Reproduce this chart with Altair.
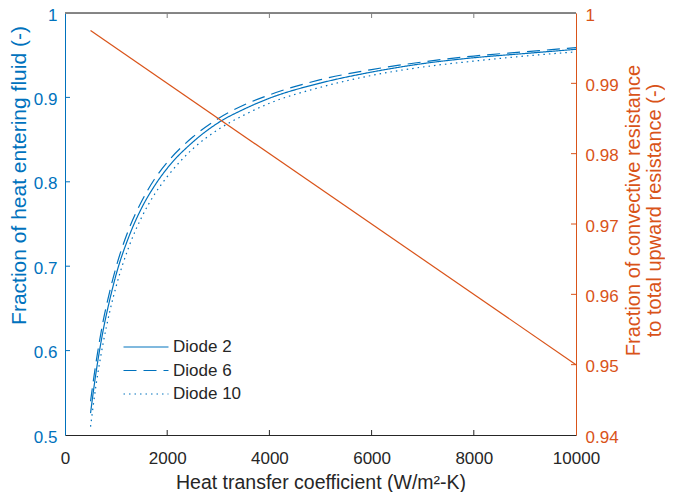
import altair as alt
import pandas as pd

# ---- data ----
h_values = [500, 600, 750, 875, 1000, 1250, 1500, 1750, 2000, 2500, 3000, 3500,
            4000, 5000, 6000, 7000, 8000, 9000, 10000]
diode2 = [0.526, 0.571, 0.625, 0.660, 0.690, 0.735, 0.769, 0.795, 0.816, 0.847, 0.870, 0.886,
          0.899, 0.917, 0.930, 0.940, 0.947, 0.952, 0.957]
diode6 = [0.540, 0.583, 0.636, 0.670, 0.699, 0.744, 0.777, 0.803, 0.823, 0.853, 0.875, 0.891,
          0.903, 0.921, 0.933, 0.942, 0.949, 0.954, 0.959]
diode10 = [0.510, 0.556, 0.610, 0.646, 0.676, 0.723, 0.758, 0.785, 0.806, 0.839, 0.862, 0.879,
           0.893, 0.912, 0.926, 0.936, 0.943, 0.949, 0.954]
series_names = ["Diode 2", "Diode 6", "Diode 10"]

h_conv = [500, 10000]
frac_conv = [0.9975, 0.95]

x_ticks = [0, 2000, 4000, 6000, 8000, 10000]
x_inner_ticks = [2000, 4000, 6000, 8000]
left_ticks = [0.5, 0.6, 0.7, 0.8, 0.9, 1.0]
left_inner_ticks = [0.6, 0.7, 0.8, 0.9]
right_ticks = [0.94, 0.95, 0.96, 0.97, 0.98, 0.99, 1.0]
right_inner_ticks = [0.95, 0.96, 0.97, 0.98, 0.99]

BLUE = "#0072BD"
ORANGE = "#D95319"
DARK = "#262626"
GRAY = "#7F7F7F"
FONT = "Liberation Sans"
W, H = 511, 422

rows = []
for name, vals in zip(series_names, [diode2, diode6, diode10]):
    for h, v in zip(h_values, vals):
        rows.append({"h": h, "frac": v, "series": name})
df_lines = pd.DataFrame(rows)
df_conv = pd.DataFrame({"h": h_conv, "conv": frac_conv})
df_xt = pd.DataFrame({"h": x_inner_ticks})
df_lt = pd.DataFrame({"lt": left_inner_ticks})
df_rt = pd.DataFrame({"rt": right_inner_ticks})

x_scale = alt.Scale(domain=[0, 10000], nice=False, zero=False)
yl_scale = alt.Scale(domain=[0.5, 1.0], nice=False, zero=False)
yr_scale = alt.Scale(domain=[0.94, 1.0], nice=False, zero=False)

x_axis = alt.Axis(
    values=x_ticks, format="d", ticks=False, grid=False,
    domainColor=DARK, labelColor=DARK, labelFont=FONT, labelFontSize=17,
    labelPadding=15, labelFlush=False,
    title="Heat transfer coefficient (W/m²-K)", titleColor=DARK, titleFont=FONT,
    titleFontSize=19.5, titleFontWeight="normal", titleY=53, titleBaseline="alphabetic",
)

lines = alt.Chart(df_lines).mark_line(color=BLUE, strokeWidth=1.2, interpolate="monotone").encode(
    x=alt.X("h:Q", scale=x_scale, axis=x_axis),
    y=alt.Y("frac:Q", scale=yl_scale, axis=alt.Axis(
        orient="left", values=left_ticks, format=".1~f", ticks=False, grid=False,
        domainColor=BLUE, labelColor=BLUE, labelFont=FONT, labelFontSize=17,
        labelPadding=8, labelFlush=False, labelOffset=2,
        title="Fraction of heat entering fluid (-)", titleColor=BLUE, titleFont=FONT,
        titleFontSize=21, titleFontWeight="normal", titleAngle=270,
        titleX=-40, titleY=162, titleAlign="center", titleBaseline="alphabetic",
    )),
    strokeDash=alt.StrokeDash("series:N", scale=alt.Scale(
        domain=series_names, range=[[1, 0], [13, 7], [1.5, 4]]),
        legend=alt.Legend(
            title=None, orient="none", legendX=69, legendY=322,
            symbolType="M-2,0L2,0", symbolSize=506, symbolStrokeColor=BLUE,
            symbolStrokeWidth=1.2, labelFont=FONT, labelFontSize=17, labelColor=DARK,
            labelOffset=15, rowPadding=3.5,
        )),
)

conv_line = alt.Chart(df_conv).mark_line(color=ORANGE, strokeWidth=1.2).encode(
    x=alt.X("h:Q", scale=x_scale),
    y=alt.Y("conv:Q", scale=yr_scale, axis=alt.Axis(
        orient="right", values=right_ticks, format=".2~f", ticks=False, grid=False,
        domainColor=ORANGE, labelColor=ORANGE, labelFont=FONT, labelFontSize=17,
        labelPadding=9, labelFlush=False, labelOffset=2,
        title=["Fraction of convective resistance", "to total upward resistance (-)"],
        titleColor=ORANGE, titleFont=FONT, titleFontSize=20, titleFontWeight="normal",
        titleAngle=270, titleX=63, titleY=197, titleAlign="center",
        titleBaseline="alphabetic", titleLineHeight=21,
    )),
)

x_ticks_bottom = alt.Chart(df_xt).mark_rule(color=DARK, strokeWidth=1).encode(
    x=alt.X("h:Q", scale=x_scale),
    y=alt.value(H), y2=alt.value(H - 5),
)
x_ticks_top = alt.Chart(df_xt).mark_rule(color=GRAY, strokeWidth=1).encode(
    x=alt.X("h:Q", scale=x_scale),
    y=alt.value(0), y2=alt.value(5),
)
top_border = alt.Chart(df_xt).mark_rule(color=GRAY, strokeWidth=1).encode(
    x=alt.value(0), x2=alt.value(W), y=alt.value(0),
)
left_tick_marks = alt.Chart(df_lt).mark_rule(color=BLUE, strokeWidth=1).encode(
    y=alt.Y("lt:Q", scale=yl_scale, axis=None),
    x=alt.value(0), x2=alt.value(5),
)
right_tick_marks = alt.Chart(df_rt).mark_rule(color=ORANGE, strokeWidth=1).encode(
    y=alt.Y("rt:Q", scale=yr_scale, axis=None),
    x=alt.value(W), x2=alt.value(W - 5),
)

chart = alt.layer(
    lines, conv_line, top_border, x_ticks_top, x_ticks_bottom, left_tick_marks, right_tick_marks
).resolve_scale(y="independent").properties(
    width=W, height=H,
    autosize=alt.AutoSizeParams(type="none"),
    padding={"left": 57, "top": 5, "right": 89, "bottom": 57},
).configure_view(stroke=None).configure_axis(grid=False, ticks=False).configure(background="white")

chart.save("out.html", embed_options={"renderer": "svg", "actions": False})
